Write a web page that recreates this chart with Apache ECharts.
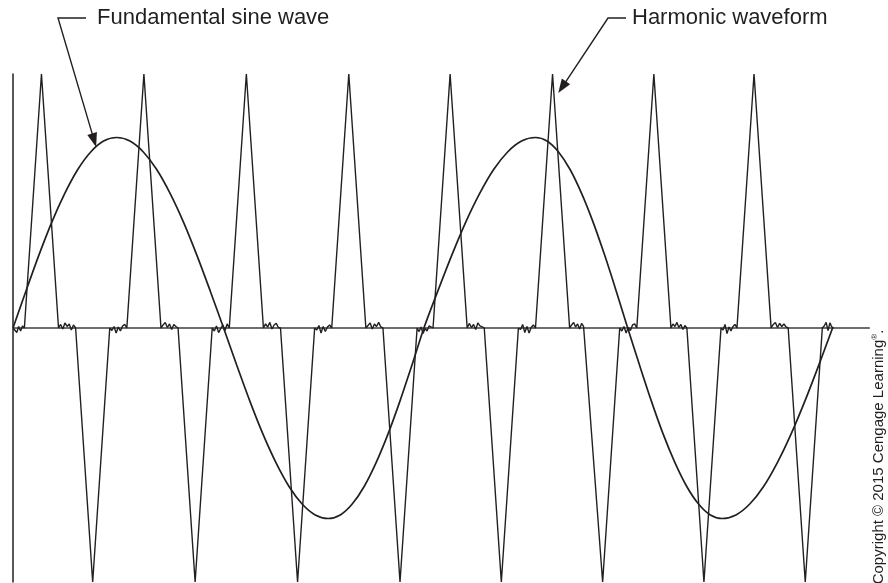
<!DOCTYPE html>
<html><head><meta charset="utf-8">
<script src="https://cdn.jsdelivr.net/npm/echarts@6/dist/echarts.min.js"></script>
<style>html,body{margin:0;padding:0;background:#fff}#c{width:888px;height:583px}</style>
</head><body><div id="c"></div>
<script>
// Fundamental sine wave (x in degrees, y relative to spike height)
const sineX = [0,11.4,22.75,34.1,45.5,56.9,68.25,79.6,91,
  102.75,114.5,126.25,138,149.75,161.5,173.25,185,
  196.5,208,219.5,231,242.5,254,265.5,277,
  287.5,298,308.5,319,329.5,340,350.5,361,
  373.25,385.5,397.75,410,422.25,434.5,446.75,459,
  469.1,479.25,489.4,499.5,509.6,519.75,529.9,540,
  550.4,560.75,571.1,581.5,591.9,602.25,612.6,623,
  635.1,647.25,659.4,671.5,683.6,695.75,707.9,720];
const sineY = [0,0.146,0.287,0.417,0.53,0.624,0.693,0.736,0.75,
  0.736,0.693,0.624,0.53,0.417,0.287,0.146,0,
  -0.146,-0.287,-0.417,-0.53,-0.624,-0.693,-0.736,-0.75,
  -0.736,-0.693,-0.624,-0.53,-0.417,-0.287,-0.146,0,
  0.146,0.287,0.417,0.53,0.624,0.693,0.736,0.75,
  0.736,0.693,0.624,0.53,0.417,0.287,0.146,0,
  -0.146,-0.287,-0.417,-0.53,-0.624,-0.693,-0.736,-0.75,
  -0.736,-0.693,-0.624,-0.53,-0.417,-0.287,-0.146,0];

// Harmonic waveform spikes (degrees) and heights
const spikeStart = [10,55,100,145,190,235,280,325,369,414,459,503,548,592,636,681];
const spikeApex  = [25,70,115,160,205,250,295,340,384,429,474,518,563,607,651,696];
const spikeEnd   = [40,85,130,175,220,265,310,355,399,444,489,533,578,622,666,711];
const spikeValue = [1,-1,1,-1,1,-1,1,-1,1,-1,1,-1,1,-1,1,-1];
const harmonicEnd = 721;
// small ripple on the baseline between spikes
const gapNoise = [
  [0.004,-0.018,0.006,-0.012,0.008],
  [0.014,-0.004,0.02,0.006,0.016,-0.008,0.012],
  [-0.01,0.006,-0.02,0.004,-0.012,0.008,0.014],
  [0.012,0.022,0.002,0.016,-0.006,0.014,0.006],
  [-0.012,0.008,-0.018,-0.002,0.012,-0.01,0.016],
  [0.016,0.004,0.022,-0.004,0.012,0.018,0.002],
  [-0.008,0.01,-0.02,0.006,-0.014,0.004,0.012],
  [0.01,0.02,-0.004,0.016,0.006,0.022,0.004],
  [-0.014,0.004,-0.022,-0.002,-0.012,0.008,0.014],
  [0.018,0.002,0.014,-0.006,0.02,0.008,0.004],
  [-0.006,0.014,-0.018,0.006,-0.02,0.002,0.012],
  [0.012,0.022,0.004,0.016,-0.004,0.018,0.006],
  [-0.012,0.006,-0.02,0.002,-0.01,0.012,0.016],
  [0.016,0.006,0.022,0.002,0.014,-0.006,0.01],
  [-0.008,0.014,-0.022,0.004,-0.012,0.006,0.014],
  [0.014,0.022,0.002,0.018,0.006,0.016,0.004],
  [0.008,0.022,-0.01,0.02,0.004]
];
const labelFundamental = 'Fundamental sine wave';
const labelHarmonic = 'Harmonic waveform';
const creditText = 'Copyright © 2015 Cengage Learning{sup|®}.';

const sine = sineX.map((x, i) => [x, sineY[i]]);
const harm = [[0, 0]];
function addGap(x0, x1, vals) {
  const n = vals.length + 1;
  vals.forEach((v, i) => harm.push([x0 + (x1 - x0) * (i + 1) / n, v]));
}
addGap(0, spikeStart[0], gapNoise[0]);
for (let i = 0; i < spikeApex.length; i++) {
  harm.push([spikeStart[i], 0], [spikeApex[i], spikeValue[i]], [spikeEnd[i], 0]);
  const next = i + 1 < spikeStart.length ? spikeStart[i + 1] : harmonicEnd;
  addGap(spikeEnd[i], next, gapNoise[i + 1]);
}
harm.push([harmonicEnd, 0]);

const ink = '#231f20';
const font = '"Liberation Sans", Arial, Helvetica, sans-serif';
const chart = echarts.init(document.getElementById('c'), null, {renderer: 'canvas'});
chart.setOption({
  animation: false,
  backgroundColor: '#fff',
  grid: {left: 13, right: 19, top: 74, bottom: 1},
  xAxis: {type: 'value', min: 0, max: 752,
    axisLine: {onZero: true, lineStyle: {color: '#6d6e70', width: 2.2}},
    axisTick: {show: false}, axisLabel: {show: false}, splitLine: {show: false}},
  yAxis: {type: 'value', min: -1, max: 1,
    axisLine: {show: true, lineStyle: {color: ink, width: 1.5}},
    axisTick: {show: false}, axisLabel: {show: false}, splitLine: {show: false}},
  series: [
    {type: 'line', data: harm, showSymbol: false, symbol: 'none',
      lineStyle: {color: ink, width: 1.4}, z: 3},
    {type: 'line', data: sine, smooth: 0.3, showSymbol: false, symbol: 'none',
      lineStyle: {color: ink, width: 1.7}, z: 4}
  ]
});

function arrow(start, corner, tip) {
  const dx = tip[0] - corner[0], dy = tip[1] - corner[1];
  const L = Math.hypot(dx, dy), ux = dx / L, uy = dy / L;
  const len = 14, hw = 5;
  const base = [tip[0] - ux * len, tip[1] - uy * len];
  return [
    {type: 'polyline', shape: {points: [start, corner, [base[0] + ux * 2, base[1] + uy * 2]]},
      style: {stroke: ink, lineWidth: 1.4, fill: null}, z: 10},
    {type: 'polygon', shape: {points: [tip,
      [base[0] - uy * hw, base[1] + ux * hw],
      [base[0] + uy * hw, base[1] - ux * hw]]},
      style: {fill: ink}, z: 10}
  ];
}
const tipF = chart.convertToPixel({gridIndex: 0}, [73, 0.713]);
const tipH = chart.convertToPixel({gridIndex: 0}, [479, 0.925]);
chart.setOption({
  graphic: [
    ...arrow([86, 18], [58, 18], tipF),
    ...arrow([626, 18], [608, 18], tipH),
    {type: 'text', x: 97, y: 18, z: 10,
      style: {text: labelFundamental, fill: ink, font: '22px ' + font, align: 'left', verticalAlign: 'middle'}},
    {type: 'text', x: 632, y: 18, z: 10,
      style: {text: labelHarmonic, fill: ink, font: '22px ' + font, align: 'left', verticalAlign: 'middle'}},
    {type: 'text', x: 879, y: 457, rotation: Math.PI / 2, z: 10,
      style: {text: creditText, fill: ink, fontSize: 15, fontFamily: font, align: 'center', verticalAlign: 'middle',
        rich: {sup: {fontSize: 8, fontFamily: font, fill: ink, verticalAlign: 'top', lineHeight: 17}}}}
  ]
});
</script></body></html>
